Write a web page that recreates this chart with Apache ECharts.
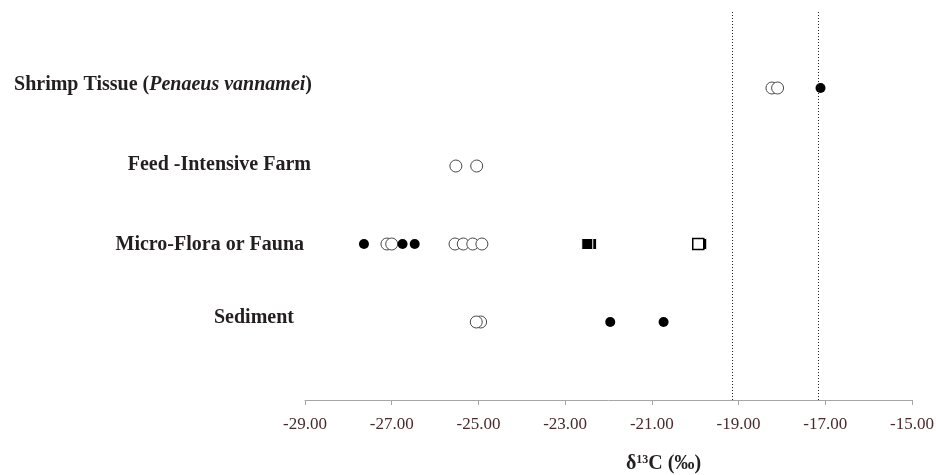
<!DOCTYPE html>
<html>
<head>
<meta charset="utf-8">
<script src="https://cdn.jsdelivr.net/npm/echarts@6/dist/echarts.min.js"></script>
<style>
html,body{margin:0;padding:0;background:#fff;}
#chart{width:936px;height:475px;}
</style>
</head>
<body>
<div id="chart"></div>
<script>
// Row categories (row index 1 = bottom)
const rowNames = ['Sediment', 'Micro-Flora or Fauna', 'Feed -Intensive Farm', 'Shrimp Tissue (Penaeus vannamei)'];
// δ13C values per row and marker type
const shrimpOpen = [-18.23, -18.10];
const shrimpFilled = [-17.11];
const feedOpen = [-25.52, -25.04];
const microFilled = [-27.64, -26.75, -26.47];
const microOpen = [-27.11, -27.00, -25.54, -25.35, -25.13, -24.92];
const microFilledSquare = [-22.40, -22.49, -19.86];
const microOpenSquare = [-19.93];
const sedimentOpen = [-24.95, -25.05];
const sedimentFilled = [-21.96, -20.73];
// reference (dotted) lines
const refLines = [-19.15, -17.17];
// x axis
const xMin = -29, xMax = -15, xStep = 2;

function pts(vals, row) { return vals.map(v => [v, row]); }

const openCircles = [].concat(pts(shrimpOpen, 4), pts(feedOpen, 3), pts(microOpen, 2), pts(sedimentOpen, 1));
const filledCircles = [].concat(pts(shrimpFilled, 4), pts(microFilled, 2), pts(sedimentFilled, 1));
const filledSquares = pts(microFilledSquare, 2);
const openSquares = pts(microOpenSquare, 2);

const serif = 'Liberation Serif';
const labelColor = '#231f20';
const fs = 20;

const chart = echarts.init(document.getElementById('chart'), null, {renderer: 'canvas'});
chart.setOption({
  backgroundColor: '#ffffff',
  animation: false,
  grid: {left: 305, right: 24, top: 10, bottom: 75, containLabel: false, outerBoundsMode: 'none'},
  xAxis: {
    type: 'value', min: xMin, max: xMax, interval: xStep,
    axisLine: {show: true, lineStyle: {color: '#a6a6a6', width: 1}},
    axisTick: {show: true, length: 5, lineStyle: {color: '#a6a6a6'}},
    splitLine: {show: false},
    axisLabel: {
      margin: 16, fontFamily: serif, fontSize: 17, color: '#4a2a2e',
      formatter: v => v.toFixed(2)
    },
    name: '{d|δ}{s|13}{d|C (‰)}',
    nameLocation: 'middle', nameGap: 54,
    nameTextStyle: {
      padding: [0, 0, 0, 110],
      rich: {
        d: {fontFamily: serif, fontWeight: 'bold', fontSize: 20, color: labelColor},
        s: {fontFamily: serif, fontWeight: 'bold', fontSize: 12, color: labelColor, padding: [0, 0, 8, 0]}
      }
    }
  },
  yAxis: {
    type: 'value', min: 0, max: 5, interval: 1,
    axisLine: {show: false}, axisTick: {show: false}, splitLine: {show: false},
    axisLabel: {
      margin: -7, align: 'right',
      formatter: function (v) {
        if (v === 4) return '{a|Shrimp Tissue (}{i|Penaeus vannamei}{b|)}';
        if (v === 3) return '{f|' + rowNames[2] + '}';
        if (v === 2) return '{m|' + rowNames[1] + '}';
        if (v === 1) return '{s|' + rowNames[0] + '}';
        return '';
      },
      rich: {
        a: {fontFamily: serif, fontWeight: 'bold', fontSize: fs, color: labelColor, padding: [0, 0, 6, 0]},
        i: {fontFamily: serif, fontWeight: 'bold', fontStyle: 'italic', fontSize: fs, color: labelColor, padding: [0, 0, 6, 0]},
        b: {fontFamily: serif, fontWeight: 'bold', fontSize: fs, color: labelColor, padding: [0, 0, 6, 0]},
        f: {fontFamily: serif, fontWeight: 'bold', fontSize: fs, color: labelColor, padding: [0, 1, 2, 0]},
        m: {fontFamily: serif, fontWeight: 'bold', fontSize: fs, color: labelColor, padding: [2, 8, 0, 0]},
        s: {fontFamily: serif, fontWeight: 'bold', fontSize: fs, color: labelColor, padding: [0, 18, 8, 0]}
      }
    }
  },
  series: [
    {
      type: 'scatter', name: 'lines', data: [], silent: true,
      markLine: {
        symbol: 'none', silent: true, label: {show: false},
        lineStyle: {type: [1, 2], color: '#222', width: 1},
        data: refLines.map(v => ({xAxis: v}))
      }
    },
    {
      type: 'scatter', name: 'open', data: openCircles, symbol: 'circle', symbolSize: 12,
      itemStyle: {color: '#ffffff', borderColor: '#4a4a4a', borderWidth: 1, opacity: 1}, z: 3
    },
    {
      type: 'scatter', name: 'filled', data: filledCircles, symbol: 'circle', symbolSize: 10,
      itemStyle: {color: '#000000', borderWidth: 0, opacity: 1}, z: 4
    },
    {
      type: 'scatter', name: 'filledSq', data: filledSquares, symbol: 'rect', symbolSize: 11,
      itemStyle: {color: '#000000', borderColor: '#ffffff', borderWidth: 1, opacity: 1}, z: 4
    },
    {
      type: 'scatter', name: 'openSq', data: openSquares, symbol: 'rect', symbolSize: 11,
      itemStyle: {color: '#ffffff', borderColor: '#000000', borderWidth: 1.5, opacity: 1}, z: 5
    }
  ]
});
</script>
</body>
</html>
